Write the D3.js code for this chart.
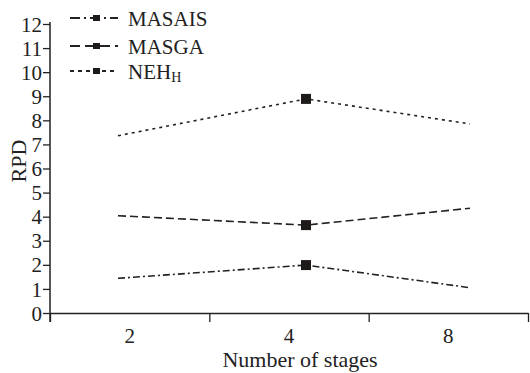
<!DOCTYPE html>
<html><head><meta charset="utf-8">
<script src="https://cdn.jsdelivr.net/npm/d3@7"></script>
<style>
body{margin:0;background:#fff;}
</style></head>
<body><svg id="c" width="530" height="373"></svg>
<script>
const stages = [2, 4, 8];
const stageLabels = ["2", "4", "8"];
const seriesNames = ["MASAIS", "MASGA", "NEH"];
const masais = [1.44, 1.99, 1.05];
const masga = [4.04, 3.65, 4.35];
const nehH = [7.36, 8.89, 7.85];
const yTicks = [0,1,2,3,4,5,6,7,8,9,10,11,12];

(function () {
const FONT = "Liberation Serif";
const svg = d3.select("#c");
const pL = 50, pR = 528, pT = 24, pB = 313;
const ink = "#222";

const y = d3.scaleLinear().domain([0, 12]).range([pB, pT]);
const xBand = d3.scaleBand().domain(stageLabels).range([pL, pR]);
const xBound = d3.scaleLinear().domain([0, 3]).range([pL, pR]);
const xLine = d3.scaleLinear().domain([2, 4, 8]).range([118, 306, 470]);

const yAxis = svg.append("g").attr("transform", `translate(${pL},0)`)
  .call(d3.axisLeft(y).tickValues(yTicks).tickSize(7).tickSizeOuter(0).tickPadding(1));
yAxis.attr("font-family", FONT).attr("font-size", 21);
yAxis.selectAll("text").attr("fill", ink).attr("font-family", FONT).attr("dy", "0.34em");
yAxis.select(".domain").attr("stroke", ink).attr("stroke-width", 1.5)
  .attr("d", `M0,${pT - 2}V${pB + 9}`);
yAxis.selectAll(".tick line").attr("stroke", ink).attr("stroke-width", 1.3);

const xAxis = svg.append("g").attr("transform", `translate(0,${pB})`)
  .call(d3.axisBottom(xBound).tickValues([0,1,2,3]).tickSize(9).tickSizeOuter(0).tickFormat(""));
xAxis.select(".domain").attr("stroke", ink).attr("stroke-width", 1.5);
xAxis.selectAll(".tick line").attr("stroke", ink).attr("stroke-width", 1.3);

const xLab = svg.append("g").attr("transform", `translate(0,${pB})`)
  .call(d3.axisBottom(xBand).tickSize(0).tickPadding(15));
xLab.attr("font-family", FONT).attr("font-size", 21);
xLab.select(".domain").remove();
xLab.selectAll("text").attr("fill", ink).attr("font-family", FONT);

svg.append("text").attr("x", 300).attr("y", 367)
  .attr("font-family", FONT).attr("font-size", 22).attr("fill", ink)
  .attr("text-anchor", "middle").text("Number of stages");
svg.append("text").attr("transform", `translate(26,161) rotate(-90)`)
  .attr("font-family", FONT).attr("font-size", 22).attr("fill", ink)
  .attr("text-anchor", "middle").text("RPD");

const dashes = ["7,3,2,3", "8,4", "3,4"];
const legDashes = ["10,4,2,4", "10,5", "4,4"];
const seriesVals = [masais, masga, nehH];
const line = d3.line().x((d, i) => xLine(stages[i])).y(d => y(d));
seriesVals.forEach((vals, k) => {
  svg.append("path").datum(vals).attr("d", line)
    .attr("fill", "none").attr("stroke", ink).attr("stroke-width", 1.6)
    .attr("stroke-dasharray", dashes[k]);
  svg.append("rect")
    .attr("x", xLine(stages[1]) - 5).attr("y", y(vals[1]) - 5)
    .attr("width", 10).attr("height", 10).attr("fill", "#1e1a1a");
});

const legY = [18, 46, 71];
seriesNames.forEach((name, k) => {
  const g = svg.append("g");
  g.append("line").attr("x1", 70).attr("x2", 118).attr("y1", legY[k]).attr("y2", legY[k])
    .attr("stroke", ink).attr("stroke-width", 1.8).attr("stroke-dasharray", legDashes[k]);
  g.append("rect").attr("x", 93).attr("y", legY[k] - 3).attr("width", 7).attr("height", 6).attr("fill", "#1e1a1a");
  const t = g.append("text").attr("x", 128).attr("y", legY[k] + 8)
    .attr("font-family", FONT).attr("font-size", 21).attr("fill", ink);
  t.append("tspan").text(name);
  if (name === "NEH") t.append("tspan").attr("dy", 3).attr("font-size", 14).text("H");
});
})();
</script></body></html>
